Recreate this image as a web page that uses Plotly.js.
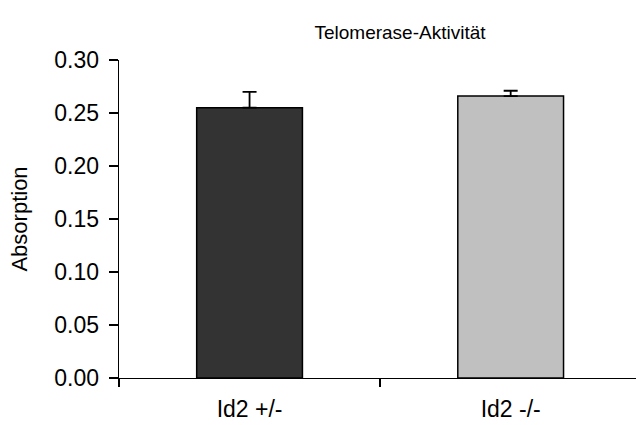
<!DOCTYPE html>
<html>
<head>
<meta charset="utf-8">
<script src="https://cdn.plot.ly/plotly-3.0.1.min.js"></script>
<style>html,body{margin:0;padding:0;background:#fff;}#chart{width:636px;height:425px;}</style>
</head>
<body>
<div id="chart"></div>
<script>
const categories = ["Id2 +/-", "Id2 -/-"];
const values = [0.255, 0.266];
const errorsUp = [0.015, 0.005];
const barColors = ["#333333", "#c0c0c0"];
const yTickVals = [0, 0.05, 0.10, 0.15, 0.20, 0.25, 0.30];
const yTickText = ["0.00", "0.05", "0.10", "0.15", "0.20", "0.25", "0.30"];

const font = "Liberation Sans, Arial, sans-serif";

const trace = {
  type: "bar",
  x: categories,
  y: values,
  width: 0.405,
  marker: {color: barColors, line: {color: "#000000", width: 1.5}},
  error_y: {type: "data", symmetric: false, array: errorsUp, arrayminus: [0, 0],
            color: "#000000", thickness: 1.8, width: 7},
  hoverinfo: "none"
};

const layout = {
  width: 636, height: 425,
  margin: {l: 119, r: 0, t: 60, b: 47, pad: 0},
  paper_bgcolor: "#ffffff", plot_bgcolor: "#ffffff",
  showlegend: false,
  font: {family: font, color: "#000000"},
  title: {text: "Telomerase-Aktivität", font: {family: font, size: 19, color: "#000"},
          x: 400 / 636, xanchor: "center", xref: "container", y: 1 - 32 / 425, yanchor: "middle", yref: "container"},
  xaxis: {
    type: "category", range: [-0.5, 1.48],
    showline: true, linecolor: "#000", linewidth: 1.3,
    ticks: "outside", tickson: "boundaries", ticklen: 8, tickcolor: "#000", tickwidth: 1.3,
    ticklabelstandoff: 10,
    tickfont: {family: font, size: 23, color: "#000"},
    showgrid: false, zeroline: false, fixedrange: true
  },
  yaxis: {
    range: [0, 0.30],
    tickvals: yTickVals, ticktext: yTickText,
    showline: true, linecolor: "#000", linewidth: 1.3,
    ticks: "outside", ticklen: 9, tickcolor: "#000", tickwidth: 1.3,
    ticklabelstandoff: 5,
    tickfont: {family: font, size: 23, color: "#000"},
    title: {text: "Absorption", font: {family: font, size: 22, color: "#000"}, standoff: 20},
    showgrid: false, zeroline: false, fixedrange: true
  }
};

Plotly.newPlot("chart", [trace], layout, {displayModeBar: false, staticPlot: true});
</script>
</body>
</html>
